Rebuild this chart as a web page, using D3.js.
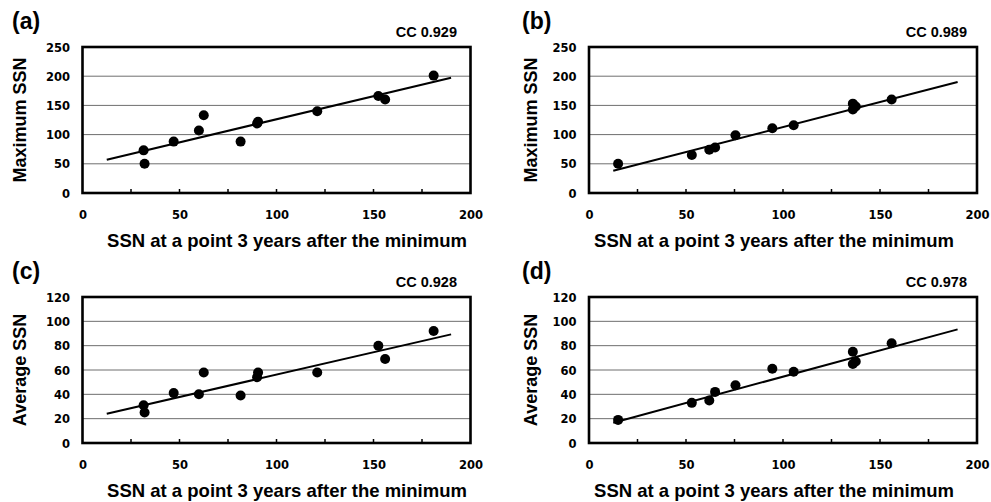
<!DOCTYPE html>
<html>
<head>
<meta charset="utf-8">
<script src="https://cdn.jsdelivr.net/npm/d3@7"></script>
<style>
  body { margin: 0; background: #fff; }
  svg { display: block; }
</style>
</head>
<body>
<div id="chart"></div>
<script>
// x values: SSN 3 years after the minimum
const xMaxAvg = [31.5, 32, 47, 60, 62.5, 81.5, 90, 90.5, 121, 152.5, 156, 181];
const xMaxAvg2 = [15, 53, 62, 65, 75.5, 94.5, 105.5, 136, 137.5, 136, 156];

// panel (a) & (c)
const maxSSN_a = [73, 50, 88, 107, 133, 88, 119, 122, 140, 166, 160, 201];
const avgSSN_c = [31, 25, 41, 40, 58, 39, 54, 58, 58, 80, 69, 92];
// panel (b) & (d)
const maxSSN_b = [50, 65, 74, 78, 99, 111, 116, 153, 148, 143, 160];
const avgSSN_d = [19, 33, 35, 42, 47.5, 61, 58.5, 75, 67, 65, 82];

// regression line end points
const fitX = [12.5, 190];
const fit_a = [57, 197.5];
const fit_b = [38, 190];
const fit_c = [24, 89.3];
const fit_d = [16.7, 93.4];

const panelLabels = ["(a)", "(b)", "(c)", "(d)"];
const ccLabels = ["CC 0.929", "CC 0.989", "CC 0.928", "CC 0.978"];
const yTitles = ["Maximum SSN", "Maximum SSN", "Average SSN", "Average SSN"];
const xTitle = "SSN at a point 3 years after the minimum";
const xTicks = [0, 50, 100, 150, 200];
const xMinorTicks = [25, 50, 75, 100, 125, 150, 175];
const yTicksMax = [0, 50, 100, 150, 200, 250];
const yTicksAvg = [0, 20, 40, 60, 80, 100, 120];

const panels = [
  { x: xMaxAvg, y: maxSSN_a, fit: fit_a, ticks: yTicksMax },
  { x: xMaxAvg2, y: maxSSN_b, fit: fit_b, ticks: yTicksMax },
  { x: xMaxAvg, y: avgSSN_c, fit: fit_c, ticks: yTicksAvg },
  { x: xMaxAvg2, y: avgSSN_d, fit: fit_d, ticks: yTicksAvg },
];

// layout
const W = 991, H = 502;
const colX = [0, 506.5], rowY = [0, 250];
const frame = { left: 82.5, top: 47, width: 388, height: 146 };
const yTitleX = [26, 30.5];
const xTitleCX = [287, 267.5];
const ccRight = [457, 460.5];
const labelX = [12, 15.5];
const titleFont = "'Liberation Sans', Arial, sans-serif";
const tickFont = "'DejaVu Sans', sans-serif";

const svg = d3.select("#chart").append("svg")
  .attr("width", W).attr("height", H);

panels.forEach((p, i) => {
  const col = i % 2, row = Math.floor(i / 2);
  const g = svg.append("g")
    .attr("transform", "translate(" + colX[col] + "," + rowY[row] + ")");

  const x = d3.scaleLinear().domain([0, 200])
    .range([frame.left, frame.left + frame.width]);
  const y = d3.scaleLinear().domain([0, d3.max(p.ticks)])
    .range([frame.top + frame.height, frame.top]);

  // grid lines
  g.append("g").selectAll("line")
    .data(p.ticks.slice(1, -1))
    .enter().append("line")
    .attr("x1", x(0)).attr("x2", x(200))
    .attr("y1", d => y(d)).attr("y2", d => y(d))
    .attr("stroke", "#6e6e6e").attr("stroke-width", 1);

  // minor ticks pointing up from the x axis
  g.append("g").selectAll("line")
    .data(xMinorTicks)
    .enter().append("line")
    .attr("x1", d => x(d)).attr("x2", d => x(d))
    .attr("y1", y(0)).attr("y2", y(0) - 4)
    .attr("stroke", "#000").attr("stroke-width", 1.5);

  // frame
  g.append("rect")
    .attr("x", frame.left).attr("y", frame.top)
    .attr("width", frame.width).attr("height", frame.height)
    .attr("fill", "none").attr("stroke", "#000").attr("stroke-width", 2.6);

  // x tick labels
  const xAxis = d3.axisBottom(x).tickValues(xTicks).tickSize(0).tickPadding(0);
  g.append("g")
    .attr("transform", "translate(0," + (y(0) + 26) + ")")
    .call(xAxis)
    .call(s => s.select(".domain").remove())
    .selectAll("text")
    .attr("dy", 0)
    .attr("font-family", tickFont).attr("font-weight", "bold")
    .attr("font-size", "11.5px").attr("fill", "#000");

  // y tick labels
  const yAxis = d3.axisLeft(y).tickValues(p.ticks).tickSize(0).tickPadding(0);
  g.append("g")
    .attr("transform", "translate(" + (frame.left - 12.5) + ",0)")
    .call(yAxis)
    .call(s => s.select(".domain").remove())
    .selectAll("text")
    .attr("dy", "0.36em")
    .attr("font-family", tickFont).attr("font-weight", "bold")
    .attr("font-size", "11.5px").attr("fill", "#000");

  // regression line
  g.append("line")
    .attr("x1", x(fitX[0])).attr("y1", y(p.fit[0]))
    .attr("x2", x(fitX[1])).attr("y2", y(p.fit[1]))
    .attr("stroke", "#000").attr("stroke-width", 2);

  // points
  g.append("g").selectAll("circle")
    .data(p.x.map((v, k) => [v, p.y[k]]))
    .enter().append("circle")
    .attr("cx", d => x(d[0])).attr("cy", d => y(d[1]))
    .attr("r", 5).attr("fill", "#000");

  // texts
  g.append("text")
    .attr("x", labelX[col]).attr("y", 29)
    .attr("font-family", titleFont).attr("font-weight", "bold")
    .attr("font-size", "23px").text(panelLabels[i]);

  g.append("text")
    .attr("x", ccRight[col]).attr("y", 37)
    .attr("text-anchor", "end")
    .attr("font-family", titleFont).attr("font-weight", "bold")
    .attr("font-size", "14.5px").text(ccLabels[i]);

  g.append("text")
    .attr("transform", "translate(" + yTitleX[col] + "," + (frame.top + frame.height / 2) + ") rotate(-90)")
    .attr("text-anchor", "middle")
    .attr("font-family", titleFont).attr("font-weight", "bold")
    .attr("font-size", "18px").text(yTitles[i]);

  g.append("text")
    .attr("x", xTitleCX[col]).attr("y", 246.5)
    .attr("text-anchor", "middle")
    .attr("font-family", titleFont).attr("font-weight", "bold")
    .attr("font-size", "18.5px").text(xTitle);
});
</script>
</body>
</html>
